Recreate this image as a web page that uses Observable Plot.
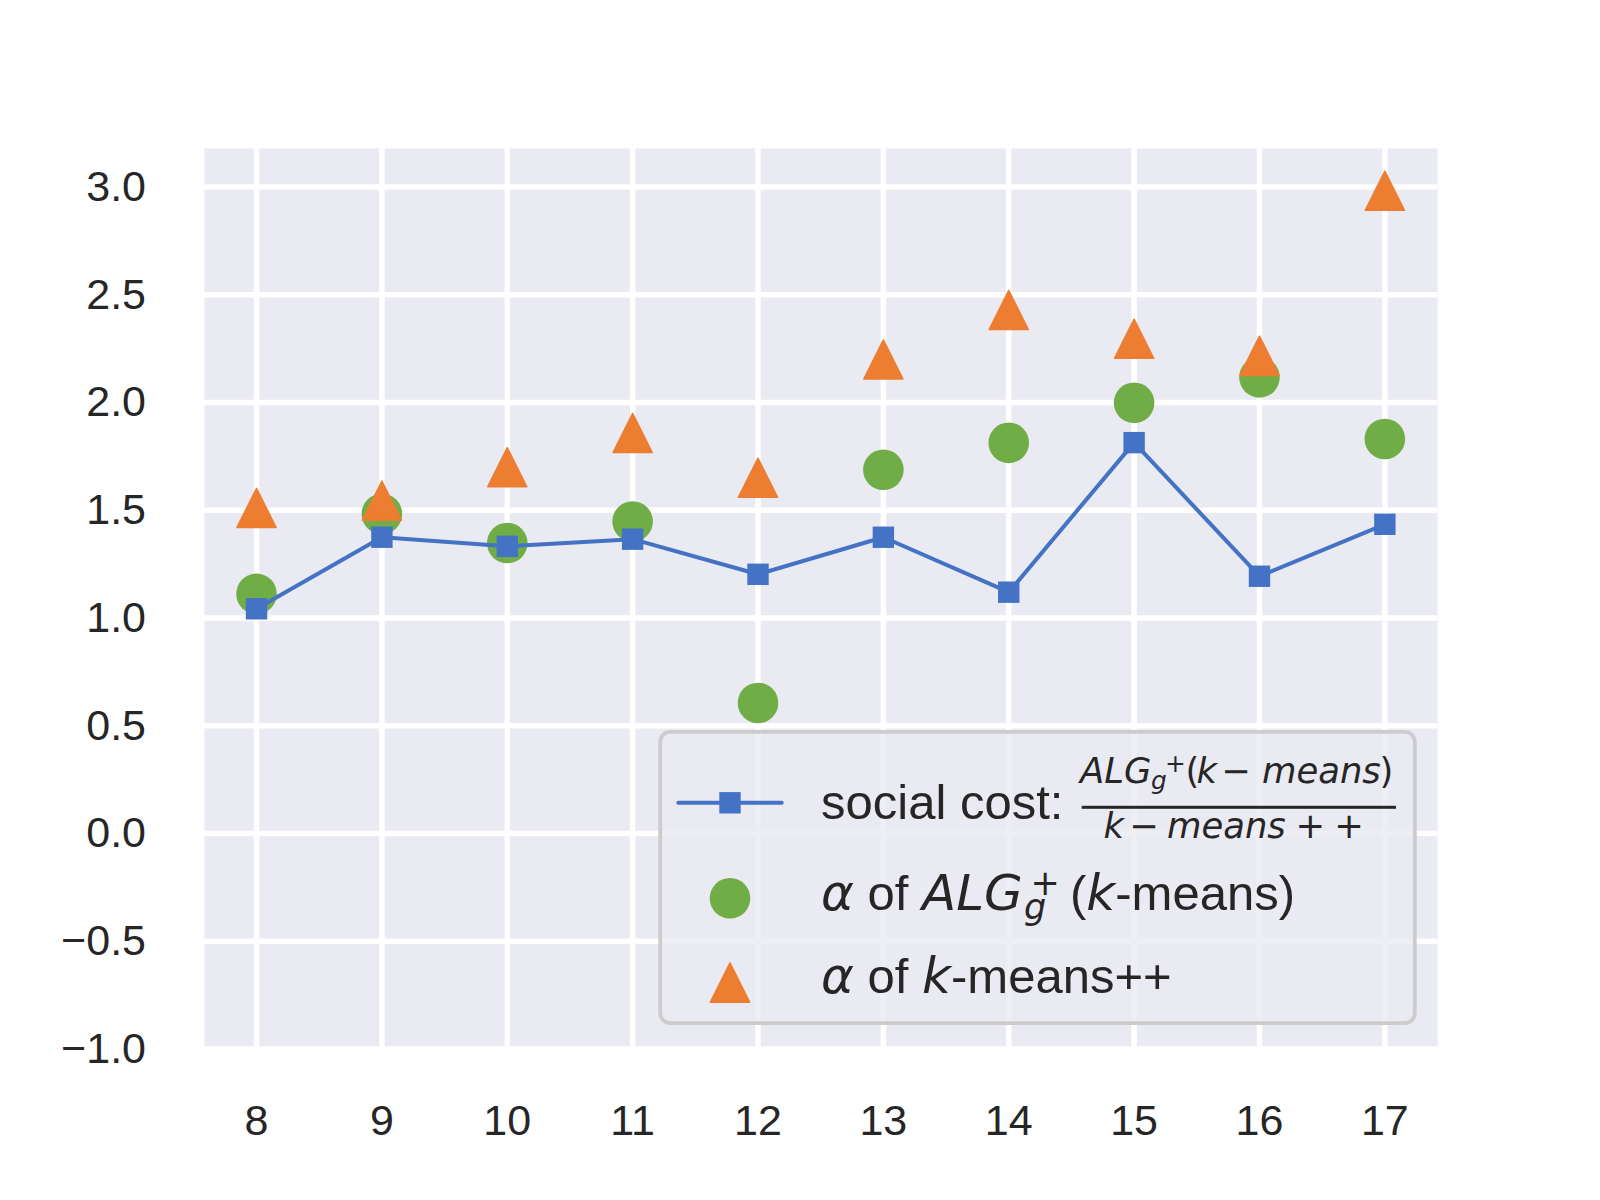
<!DOCTYPE html>
<html>
<head>
<meta charset="utf-8">
<script src="https://cdn.jsdelivr.net/npm/d3@7"></script>
<script src="https://cdn.jsdelivr.net/npm/@observablehq/plot@0.6"></script>
<style>
  html, body { margin: 0; padding: 0; background: #fff; }
  #wrap { position: relative; width: 1600px; height: 1200px; }
  #legend { position: absolute; left: 0; top: 0; pointer-events: none; }
  #legend text { white-space: pre; }
</style>
</head>
<body>
<div id="wrap"></div>
<script>
// ---- data ----
const kValues = [8, 9, 10, 11, 12, 13, 14, 15, 16, 17];
const socialCost = [1.043, 1.375, 1.333, 1.366, 1.203, 1.375, 1.120, 1.814, 1.194, 1.435];
const alphaAlg = [1.112, 1.483, 1.348, 1.448, 0.606, 1.688, 1.813, 1.999, 2.117, 1.831];
const alphaKpp = [1.511, 1.545, 1.700, 1.859, 1.651, 2.200, 2.430, 2.296, 2.217, 2.983];
const xTicks = [8, 9, 10, 11, 12, 13, 14, 15, 16, 17];
const yTicks = [-1.0, -0.5, 0.0, 0.5, 1.0, 1.5, 2.0, 2.5, 3.0];

const rows = kValues.map((k, i) => ({k, social: socialCost[i], alg: alphaAlg[i], kpp: alphaKpp[i]}));

const BLUE = "#4472c4", GREEN = "#70ad47", ORANGE = "#ed7d31", INK = "#262626";

// matplotlib-like marker shapes (bounding box centred)
const triUp = {draw(ctx, size) { const h = Math.sqrt(size / Math.PI); ctx.moveTo(0, -h); ctx.lineTo(h, h); ctx.lineTo(-h, h); ctx.closePath(); }};
const squareSym = {draw(ctx, size) { const h = Math.sqrt(size / Math.PI); ctx.rect(-h, -h, 2 * h, 2 * h); }};

const chart = Plot.plot({
  width: 1600,
  height: 1200,
  marginLeft: 204,
  marginRight: 163,
  marginTop: 148,
  marginBottom: 153,
  style: {background: "#ffffff", fontFamily: "'Liberation Sans', Arial, sans-serif", fontSize: "43px", color: INK},
  x: {domain: [7.585, 17.42], ticks: xTicks, tickSize: 0, tickPadding: 57, tickFormat: d => String(d), label: null},
  y: {domain: [-0.993, 3.179], ticks: yTicks, tickSize: 0, tickPadding: 58.5,
      tickFormat: d => (d < 0 ? "\u2212" : "") + Math.abs(d).toFixed(1), label: null},
  marks: [
    Plot.frame({fill: "#eaeaf2", stroke: null}),
    Plot.ruleX(xTicks, {stroke: "#ffffff", strokeWidth: 5.5}),
    Plot.ruleY(yTicks, {stroke: "#ffffff", strokeWidth: 5.5}),
    Plot.dot(rows, {x: "k", y: "alg", r: 20.3, fill: GREEN, stroke: null}),
    Plot.dot(rows, {x: "k", y: "kpp", r: 19.6, symbol: triUp, fill: ORANGE, stroke: ORANGE, strokeWidth: 1.5, strokeLinejoin: "round"}),
    Plot.line(rows, {x: "k", y: "social", stroke: BLUE, strokeWidth: 4}),
    Plot.dot(rows, {x: "k", y: "social", r: 10.7, symbol: squareSym, fill: BLUE, stroke: null})
  ]
});

const wrap = document.getElementById("wrap");
wrap.appendChild(chart);

// ---- legend overlay ----
const DV = "font-family=\"DejaVu Sans\" font-style=\"normal\"";
const IT = "font-family=\"DejaVu Sans\" font-style=\"italic\"";
const LS = "font-family=\"'Liberation Sans', Arial, sans-serif\"";
const legendSvg = `
<svg id="legend" width="1600" height="1200" xmlns="http://www.w3.org/2000/svg" fill="${INK}">
  <rect x="660.2" y="731.9" width="754.6" height="291.2" rx="10" ry="10" fill="#eaeaf2" fill-opacity="0.8" stroke="#cccccc" stroke-width="3.8"/>
  <line x1="678.3" x2="781.7" y1="802.7" y2="802.7" stroke="${BLUE}" stroke-width="4" stroke-linecap="round"/>
  <rect x="719.3" y="792.1" width="21.4" height="21.4" fill="${BLUE}"/>
  <circle cx="730" cy="898.3" r="20.3" fill="${GREEN}"/>
  <polygon points="730,962.8 749.6,1002.2 710.4,1002.2" fill="${ORANGE}" stroke="${ORANGE}" stroke-width="1.5" stroke-linejoin="round"/>

  <text x="821" y="819.3" ${LS} font-size="49">social cost:</text>
  <text font-size="35.4" ${IT}><tspan x="1080" y="782.7">ALG</tspan><tspan x="1151" y="789" font-size="24.8">g</tspan><tspan x="1165" y="771.7" font-size="24.8" font-style="normal">+</tspan><tspan x="1185.5" y="782.7" font-style="normal">(</tspan><tspan x="1196.5" y="782.7">k</tspan><tspan x="1221.3" y="782.7" font-style="normal">\u2212</tspan><tspan x="1262" y="782.7">means</tspan><tspan x="1379.5" y="782.7" font-style="normal">)</tspan></text>
  <rect x="1081.7" y="805.8" width="314.3" height="3" fill="${INK}"/>
  <text font-size="35.4" ${IT}><tspan x="1103.5" y="838.3">k</tspan><tspan x="1129.3" y="838.3" font-style="normal">\u2212</tspan><tspan x="1167" y="838.3">means</tspan><tspan x="1295.6" y="838.3" font-style="normal">+</tspan><tspan x="1334.3" y="838.3" font-style="normal">+</tspan></text>

  <text x="821" y="910" ${LS} font-size="49"><tspan ${IT} font-size="50">\u03b1</tspan> of <tspan ${IT} font-size="50">ALG</tspan><tspan x="1024" y="919" ${IT} font-size="35">g</tspan><tspan x="1030.6" y="895" ${DV} font-size="35">+</tspan><tspan x="1070" y="910">(</tspan><tspan ${IT} font-size="50">k</tspan>-means)</text>

  <text x="821" y="993.3" ${LS} font-size="49"><tspan ${IT} font-size="50">\u03b1</tspan> of <tspan ${IT} font-size="50">k</tspan>-means++</text>
</svg>`;
wrap.insertAdjacentHTML("beforeend", legendSvg);
</script>
</body>
</html>
